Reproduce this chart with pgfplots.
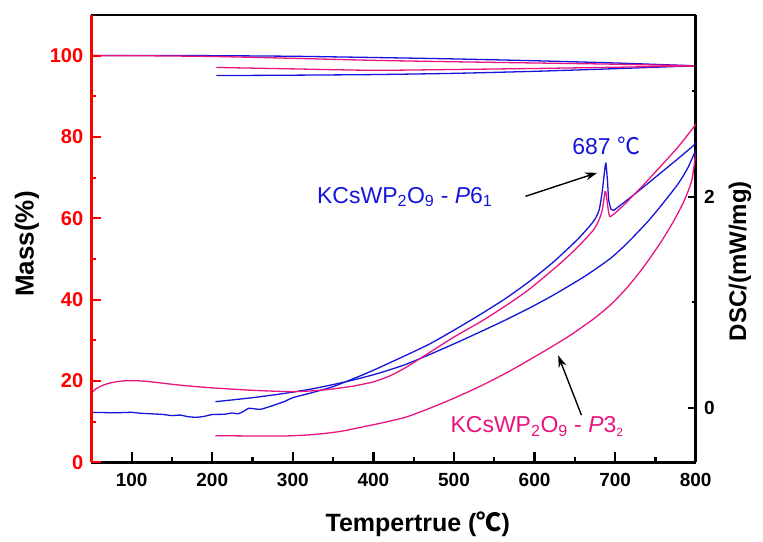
\documentclass[border=0pt]{standalone}
\usepackage{fontspec}
\setmainfont{Liberation Sans}
\newfontfamily\cjk{Noto Sans CJK SC}
\usepackage{pgfplots}
\pgfplotsset{compat=1.18}
\usetikzlibrary{arrows.meta}
\definecolor{cblue}{RGB}{20,20,220}
\definecolor{cpink}{RGB}{232,20,128}
\definecolor{cred}{RGB}{255,0,0}
\newcommand{\fs}[1]{\fontsize{#1bp}{#1bp}\selectfont}
\pgfplotsset{
  common/.style={scale only axis, width=604.3bp, height=447.3bp,
    xmin=50, xmax=800, tick align=inside,
    /pgf/number format/assume math mode=true},
  crv/.style={#1, line width=1.3bp, smooth, tension=0.4},
}
\begin{document}
\begin{tikzpicture}
% ---- axis A: x axis (bottom) + TG curves + annotations
\begin{axis}[common, name=main, ymin=0, ymax=110,
  axis x line*=bottom, axis y line=none,
  axis line style={black, line width=2.6bp},
  xtick={100,200,...,800}, minor xtick={150,250,...,750},
  major tick length=10bp, minor tick length=5bp,
  tick style={black, line width=2.2bp},
  xticklabel style={font=\bfseries\fs{19}, yshift=-7bp},
  xlabel={Tempertrue ({\cjk ℃})},
  xlabel style={at={(axis description cs:0.54,-0.155)}, anchor=base, font=\bfseries\fs{25}},
]
\addplot[crv=cblue] coordinates {
(50,100.0) (100,100.05) (200,100.0) (300,99.85) (400,99.55) (500,99.2) (600,98.75) (700,98.2) (800,97.5)};
\addplot[crv=cblue] coordinates {
(800,97.5) (700,96.8) (600,96.15) (500,95.65) (400,95.35) (300,95.2) (205,95.1)};
\addplot[crv=cpink] coordinates {
(50,100.0) (100,100.0) (200,99.8) (300,99.35) (400,98.85) (500,98.5) (600,98.2) (700,97.9) (800,97.5)};
\addplot[crv=cpink] coordinates {
(800,97.5) (700,97.15) (600,96.85) (500,96.6) (400,96.4) (300,96.75) (205,97.1)};
\node[anchor=base west, text=cblue, font=\fs{23}, inner sep=0pt] at (axis cs:329.9,63.7)
  {KCsWP\textsubscript{2}O\textsubscript{9} - \textit{P}6\textsubscript{1}};
\node[anchor=base west, text=cblue, font=\fs{23}, inner sep=0pt] at (axis cs:646.6,75.66)
  {687 {\cjk ℃}};
\node[anchor=base west, text=cpink, font=\fs{23}, inner sep=0pt] at (axis cs:495.5,7.26)
  {KCsWP\textsubscript{2}O\textsubscript{9} - \textit{P}3\textsubscript{\fs{12}2}};
\draw[black, line width=1.4bp, -{Stealth[length=12bp,width=8bp]}] (axis cs:588.6,65.4) -- (axis cs:677.7,71.2);
\draw[black, line width=1.4bp, -{Stealth[length=12bp,width=8bp]}] (axis cs:658.2,11.6) -- (axis cs:629.3,26.3);
\end{axis}
% ---- axis C: DSC curves, right axis and top line
\begin{axis}[common, ymin=-0.5175, ymax=3.722,
  axis x line*=top, axis y line*=right, xtick=\empty,
  axis line style={black, line width=2.6bp},
  ytick={0,2}, minor ytick={1,3},
  major tick length=8bp, minor tick length=4bp,
  tick style={black, line width=2.2bp},
  yticklabel style={font=\bfseries\fs{19}, xshift=5bp},
  ylabel={DSC/(mW/mg)},
  ylabel style={at={(axis description cs:1.0733,0.45)}, anchor=center, font=\bfseries\fs{24}},
]
% blue heating
\addplot[crv=cblue] coordinates {
(50,-0.047) (60,-0.045) (75,-0.048) (90,-0.046) (100,-0.044) (110,-0.052) (125,-0.058)
(140,-0.065) (150,-0.075) (160,-0.070) (170,-0.085) (180,-0.091) (190,-0.082) (200,-0.065)
(215,-0.062) (225,-0.050) (232,-0.058) (240,-0.030) (245,-0.006) (252,-0.010) (260,-0.015)
(275,0.020) (290,0.060) (300,0.095) (325,0.145) (350,0.200) (380,0.290)
(400,0.355) (420,0.425) (440,0.495) (470,0.605) (500,0.735) (533,0.885) (565,1.040)
(595,1.205) (624,1.385) (654,1.600) (673,1.765) (680,1.870) (684,2.050) (687,2.250)
(688.5,2.317) (690.5,2.150) (692,1.970) (695,1.880) (698,1.870) (705,1.910) (715,1.969)
(735,2.090) (756,2.222) (778,2.360) (798,2.490) (800,2.520)};
% blue cooling
\addplot[crv=cblue] coordinates {
(800,2.44) (790,2.27) (778,2.12) (756,1.905) (740,1.76) (715,1.56) (695,1.42) (673,1.30)
(657,1.22) (624,1.07) (595,0.95) (565,0.835) (533,0.72) (500,0.605) (470,0.505) (440,0.41)
(408,0.33) (380,0.272) (357,0.231) (325,0.18) (290,0.136) (250,0.095) (204,0.057)};
% pink heating
\addplot[crv=cpink] coordinates {
(50,0.140) (55,0.175) (62,0.205) (70,0.228) (80,0.245) (90,0.254) (100,0.257) (115,0.252)
(130,0.240) (150,0.222) (175,0.203) (200,0.188) (225,0.176) (250,0.165) (275,0.157)
(300,0.152) (325,0.160) (350,0.178) (375,0.205) (400,0.245) (420,0.300) (440,0.380)
(470,0.525) (500,0.670) (533,0.815) (565,0.970) (595,1.132) (632,1.369)
(654,1.526) (673,1.684) (680,1.780) (684,1.874) (687.5,2.047) (689,2.020) (691,1.900)
(693,1.815) (696,1.820) (705,1.880) (715,1.953) (735,2.110) (756,2.284) (778,2.470)
(798,2.664) (800,2.696)};
% pink cooling
\addplot[crv=cpink] coordinates {
(800,2.41) (795,2.15) (785,1.95) (772,1.76) (756,1.56) (735,1.33) (715,1.14) (695,0.98)
(673,0.84) (645,0.69) (624,0.59) (595,0.46) (565,0.33) (533,0.205) (500,0.09)
(470,-0.005) (440,-0.09) (408,-0.148) (385,-0.185) (357,-0.227) (325,-0.255) (290,-0.268)
(250,-0.268) (204,-0.265)};
\end{axis}
% ---- axis B: red left axis
\begin{axis}[common, ymin=0, ymax=110,
  axis y line*=left, axis x line=none,
  axis line style={cred, line width=2.6bp},
  ytick={0,20,...,100}, minor ytick={10,30,...,90},
  major tick length=10bp, minor tick length=5bp,
  tick style={cred, line width=2.2bp},
  yticklabel style={font=\bfseries\fs{20}, text=cred, xshift=-4.7bp},
  ylabel={Mass(\%)},
  ylabel style={at={(axis description cs:-0.1066,0.488)}, anchor=center, font=\bfseries\fs{26}, text=black},
]
\end{axis}
\pgfresetboundingbox
\path[use as bounding box] ([xshift=-91.4bp,yshift=-78.7bp]main.south west) rectangle ([xshift=67.3bp,yshift=15bp]main.north east);
\end{tikzpicture}
\end{document}
